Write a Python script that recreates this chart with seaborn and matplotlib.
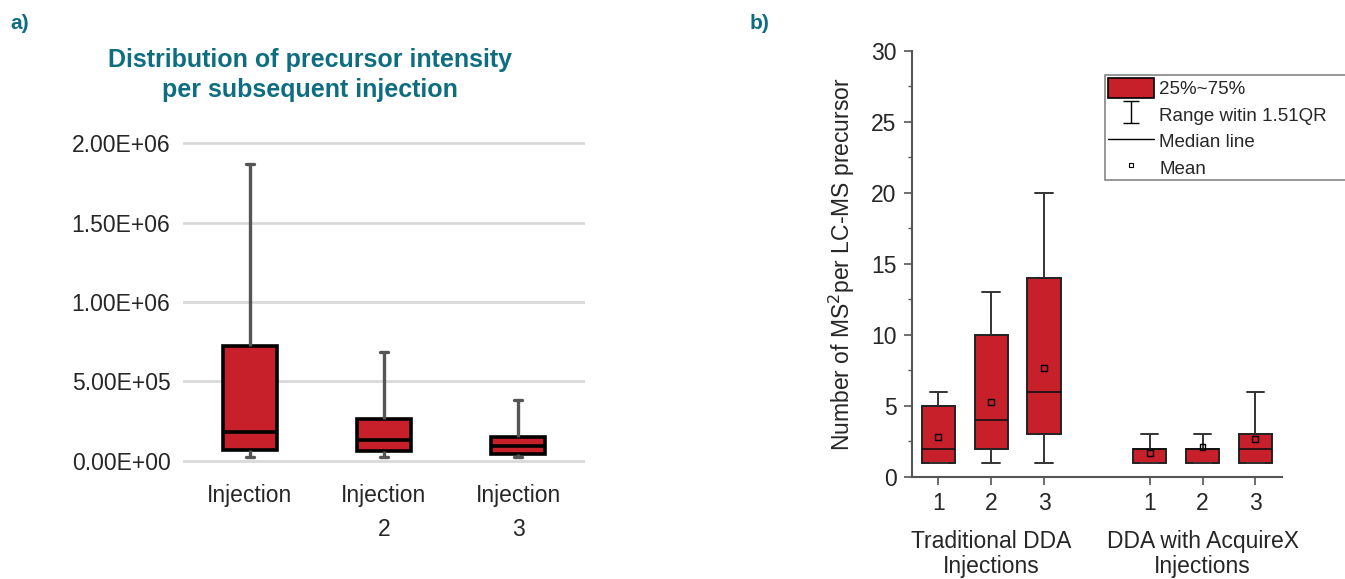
import numpy as np
import pandas as pd
import matplotlib
matplotlib.use("Agg")
import matplotlib.pyplot as plt
from matplotlib.patches import Patch
from matplotlib.lines import Line2D
from matplotlib.path import Path
from matplotlib.ticker import MultipleLocator
import seaborn as sns

# ---------------- data ----------------
# Panel a: five-number summaries (min, Q1, median, Q3, max)
a_labels = ["Injection", "Injection\n2", "Injection\n3"]
a_min = [2.0e4, 2.0e4, 2.0e4]
a_q1 = [7.0e4, 6.2e4, 4.5e4]
a_med = [1.8e5, 1.3e5, 9.0e4]
a_q3 = [7.2e5, 2.6e5, 1.5e5]
a_max = [1.87e6, 6.85e5, 3.8e5]

# Panel b
b_pos = [1, 2, 3, 5, 6, 7]
b_ticklabels = ["1", "2", "3", "1", "2", "3"]
b_groups = ["Traditional DDA\nInjections", "DDA with AcquireX\nInjections"]
b_group_centers = [2, 6]
b_min = [1, 1, 1, 1, 1, 1]
b_q1 = [1, 2, 3, 1, 1, 1]
b_med = [2, 4, 6, 2, 2, 2]
b_q3 = [5, 10, 14, 2, 2, 3]
b_max = [6, 13, 20, 3, 3, 6]
b_mean = [2.8, 5.3, 7.7, 1.7, 2.1, 2.7]

a_yticks = [0, 5e5, 1e6, 1.5e6, 2e6]
a_yticklabels = ["0.00E+00", "5.00E+05", "1.00E+06", "1.50E+06", "2.00E+06"]

# ---------------- style ----------------
sns.set_theme(style="white")
plt.rcParams["font.family"] = ["Liberation Sans", "DejaVu Sans"]

RED = "#C8202A"
TEAL = "#0E6E80"
TXT = "#262626"

fig = plt.figure(figsize=(13.45, 5.79), dpi=100)

# five-number rows -> long table (quartiles reproduce exactly with linear interpolation)
def five_num_table(keys, mins, q1s, meds, q3s, maxs, keyname):
    rows = []
    for k, a, b, c, d, e in zip(keys, mins, q1s, meds, q3s, maxs):
        for v in (a, b, c, d, e):
            rows.append({keyname: k, "value": v})
    return pd.DataFrame(rows)

# ---------------- panel a ----------------
axa = fig.add_axes([0.136, 0.2003, 0.299, 0.5562])
dfa = five_num_table(a_labels, a_min, a_q1, a_med, a_q3, a_max, "cat")
sns.boxplot(data=dfa, x="cat", y="value", order=a_labels, ax=axa,
            whis=(0, 100), showfliers=False, width=0.4,
            boxprops=dict(facecolor=RED, edgecolor="black", linewidth=2.6),
            medianprops=dict(color="black", linewidth=2.6),
            whiskerprops=dict(color="#555555", linewidth=2.4),
            capprops=dict(color="#555555", linewidth=2.4),
            capwidths=0.06)
axa.set_ylim(-1.5e4, 2.015e6)
axa.set_xlim(-0.5, 2.5)
axa.set_yticks(a_yticks)
axa.set_yticklabels(a_yticklabels)
axa.yaxis.grid(True, color="#d9d9d9", linewidth=2)
axa.set_axisbelow(True)
for s in axa.spines.values():
    s.set_visible(False)
axa.tick_params(axis="y", length=0, labelsize=16.5, colors=TXT, pad=9)
axa.tick_params(axis="x", length=0, labelsize=16.5, colors=TXT, pad=15)
axa.set_xlabel("")
axa.set_ylabel("")
for t in axa.get_xticklabels():
    t.set_linespacing(1.6)
    t.set_verticalalignment("top")
axa.set_title("Distribution of precursor intensity\nper subsequent injection",
              fontsize=18, fontweight="bold", color=TEAL, pad=32, linespacing=1.3,
              x=0.316)
fig.text(0.008, 0.96, "a)", fontsize=15, fontweight="bold", color=TEAL, va="center")
fig.text(0.557, 0.96, "b)", fontsize=15, fontweight="bold", color=TEAL, va="center")

# ---------------- panel b ----------------
axb = fig.add_axes([0.678, 0.1762, 0.275, 0.7358])
dfb = five_num_table(b_pos, b_min, b_q1, b_med, b_q3, b_max, "pos")
sns.boxplot(data=dfb, x="pos", y="value", native_scale=True, ax=axb,
            whis=(0, 100), showfliers=False, width=0.63,
            boxprops=dict(facecolor=RED, edgecolor="#222222", linewidth=1.4),
            medianprops=dict(color="#111111", linewidth=1.2),
            whiskerprops=dict(color="#333333", linewidth=1.4),
            capprops=dict(color="#333333", linewidth=1.4),
            capwidths=0.33)
sns.scatterplot(x=b_pos, y=b_mean, ax=axb, marker="s", s=18,
                facecolor="none", edgecolor="black", linewidth=1.0, zorder=5)
axb.set_xlim(0.5, 7.5)
axb.set_ylim(0, 30)
axb.set_xticks(b_pos)
axb.set_xticklabels(b_ticklabels)
axb.yaxis.set_major_locator(MultipleLocator(5))
axb.yaxis.set_minor_locator(MultipleLocator(2.5))
for side in ("top", "right"):
    axb.spines[side].set_visible(False)
for side in ("left", "bottom"):
    axb.spines[side].set_color("#555555")
    axb.spines[side].set_linewidth(1.5)
axb.tick_params(axis="both", which="major", direction="out", length=6, width=1.2,
                colors="#555555", labelcolor=TXT, labelsize=16.5, left=True, bottom=True,
                pad=5)
axb.tick_params(axis="y", which="minor", direction="out", length=3, width=1.0,
                colors="#555555", left=True)
axb.set_xlabel("")
axb.set_ylabel(r"Number of MS$^{2}$per LC-MS precursor", fontsize=16.5, color=TXT,
               labelpad=10)
for cx, lab in zip(b_group_centers, b_groups):
    axb.annotate(lab, xy=(cx, 0), xycoords=("data", "axes fraction"),
                 xytext=(0, -38), textcoords="offset points", ha="center", va="top",
                 fontsize=16.5, color=TXT, linespacing=1.15, annotation_clip=False)

# I-shaped marker for the whisker legend entry
i_path = Path([(-0.75, 1), (0.75, 1), (0, 1), (0, -1), (-0.75, -1), (0.75, -1)],
              [Path.MOVETO, Path.LINETO, Path.MOVETO, Path.LINETO, Path.MOVETO, Path.LINETO])
handles = [
    Patch(facecolor=RED, edgecolor="black", linewidth=1.2),
    Line2D([], [], linestyle="none", marker=i_path, markersize=16,
           markeredgecolor="black", markerfacecolor="none", markeredgewidth=1.0),
    Line2D([], [], color="black", linewidth=1.0),
    Line2D([], [], linestyle="none", marker="s", markersize=3.5,
           markerfacecolor="none", markeredgecolor="black", markeredgewidth=0.8),
]
labels = ["25%~75%", "Range witin 1.51QR", "Median line", "Mean"]
leg = fig.legend(handles, labels, loc="upper left",
                 bbox_to_anchor=(0.8216, 0.689, 0.2, 0.182), mode="expand",
                 fontsize=13.5, frameon=True, fancybox=False, handlelength=2.45,
                 handleheight=1.3, handletextpad=0.3, labelspacing=0.32,
                 borderpad=0.15, borderaxespad=0)
leg.get_frame().set_edgecolor("#666666")
leg.get_frame().set_linewidth(1.2)
for t in leg.get_texts():
    t.set_color(TXT)

fig.savefig("out.png", dpi=100)
